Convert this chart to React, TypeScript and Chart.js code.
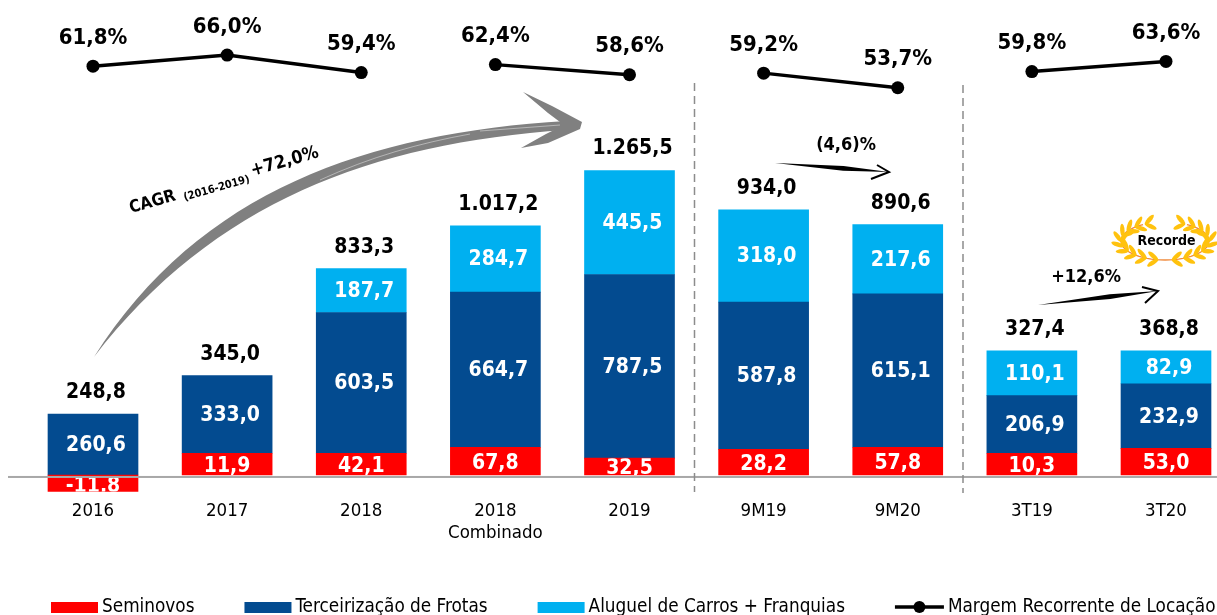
import React, { useEffect, useRef } from "react";
import { Chart, registerables } from "chart.js";

Chart.register(...registerables);

const categories = [["2016"], ["2017"], ["2018"], ["2018", "Combinado"], ["2019"], ["9M19"], ["9M20"], ["3T19"], ["3T20"]];

// Printed values, as they appear on the picture.
const seminovosLabels = ["-11,8", "11,9", "42,1", "67,8", "32,5", "28,2", "57,8", "10,3", "53,0"];
const frotasLabels = ["260,6", "333,0", "603,5", "664,7", "787,5", "587,8", "615,1", "206,9", "232,9"];
const aluguelLabels = [null, null, "187,7", "284,7", "445,5", "318,0", "217,6", "110,1", "82,9"];
const totalLabels = ["248,8", "345,0", "833,3", "1.017,2", "1.265,5", "934,0", "890,6", "327,4", "368,8"];

// Drawn segment sizes: the source slide is not to scale, so these are read off the bars' heights.
const seminovos = [-71, 93, 93, 119, 72, 110, 119, 93, 114];
const frotas = [260.6, 333, 603.5, 664.7, 787.5, 631, 657, 247, 277];
const aluguel = [null, null, 187.7, 284.7, 445.5, 396, 297, 192, 141];

const margem = [61.8, 66.0, 59.4, 62.4, 58.6, 59.2, 53.7, 59.8, 63.6];
const margemBreaks = [2, 4, 6];

const RED = "#ff0000";
const NAVY = "#034b90";
const SKY = "#00b0f0";
const FONT = "'DejaVu Sans Condensed','DejaVu Sans',sans-serif";

function brush(ctx: CanvasRenderingContext2D, pts: number[][], fill: string) {
  ctx.fillStyle = fill;
  ctx.beginPath();
  pts.forEach((p, i) => (i ? ctx.lineTo(p[0], p[1]) : ctx.moveTo(p[0], p[1])));
  ctx.closePath();
  ctx.fill();
}

function drawBigArrow(ctx: CanvasRenderingContext2D) {
  ctx.save();
  ctx.fillStyle = "#808080";
  ctx.beginPath();
  ctx.moveTo(94, 357);
  ctx.bezierCurveTo(200, 190, 368, 133, 566, 121);
  ctx.lineTo(566, 130);
  ctx.bezierCurveTo(372, 143, 214, 202, 94, 357);
  ctx.closePath();
  ctx.fill();
  brush(ctx, [[523, 92], [552, 106], [582, 122], [580, 129], [548, 143], [521, 148], [546, 134], [564, 125], [548, 113]], "#808080");
  ctx.strokeStyle = "rgba(255,255,255,0.6)";
  ctx.lineWidth = 0.7;
  ctx.beginPath();
  ctx.moveTo(172, 284);
  ctx.bezierCurveTo(190, 264, 200, 254, 215, 243);
  ctx.moveTo(320, 180);
  ctx.bezierCurveTo(370, 157, 420, 143, 470, 134);
  ctx.moveTo(480, 131);
  ctx.lineTo(560, 125);
  ctx.stroke();
  ctx.restore();
}

function drawSmallArrow(ctx: CanvasRenderingContext2D, tail: number[], tip: number[], b1: number[], b2: number[]) {
  ctx.save();
  const dx = tip[0] - tail[0];
  const dy = tip[1] - tail[1];
  const len = Math.hypot(dx, dy);
  const nx = -dy / len;
  const ny = dx / len;
  const mx = tail[0] + dx * 0.6;
  const my = tail[1] + dy * 0.6;
  brush(ctx, [tail, [mx + nx * 2.4, my + ny * 2.4], tip, [mx - nx * 2.4, my - ny * 2.4]], "#000");
  ctx.strokeStyle = "#000";
  ctx.lineWidth = 2;
  ctx.beginPath();
  ctx.moveTo(b1[0], b1[1]);
  ctx.lineTo(tip[0], tip[1]);
  ctx.lineTo(b2[0], b2[1]);
  ctx.stroke();
  ctx.restore();
}

function drawWreath(ctx: CanvasRenderingContext2D) {
  const cx = 1165;
  const cy = 241;
  const rx = 44;
  const ry = 19;
  ctx.save();
  [-1, 1].forEach((side) => {
    ctx.strokeStyle = "#f08a3c";
    ctx.lineWidth = 1.3;
    ctx.beginPath();
    for (let a = 0; a <= 150; a += 6) {
      const r = (a * Math.PI) / 180;
      const x = cx + side * rx * Math.sin(r);
      const y = cy + ry * Math.cos(r);
      a === 0 ? ctx.moveTo(x, y) : ctx.lineTo(x, y);
    }
    ctx.stroke();
    ctx.fillStyle = "#ffc20e";
    for (let a = 10; a <= 158; a += 16) {
      const r = (a * Math.PI) / 180;
      const x = cx + side * rx * Math.sin(r);
      const y = cy + ry * Math.cos(r);
      const tang = Math.atan2(-ry * Math.sin(r), side * rx * Math.cos(r));
      [-0.65, 0.65].forEach((off) => {
        const t = tang + off * side;
        ctx.beginPath();
        ctx.ellipse(x + Math.cos(t) * 5.5, y + Math.sin(t) * 5.5, 6.5, 2.2, t, 0, Math.PI * 2);
        ctx.fill();
      });
    }
  });
  ctx.fillStyle = "#000";
  ctx.font = `bold 14px ${FONT}`;
  ctx.textAlign = "center";
  ctx.textBaseline = "middle";
  ctx.fillText("Recorde", 1166.5, 241);
  ctx.restore();
}

const overlay = {
  id: "overlay",
  afterDatasetsDraw(chart: any) {
    const ctx: CanvasRenderingContext2D = chart.ctx;
    const sets = [seminovosLabels, frotasLabels, aluguelLabels];
    ctx.save();
    ctx.textAlign = "center";
    ctx.textBaseline = "middle";

    // segment labels
    sets.forEach((labels, d) => {
      chart.getDatasetMeta(d).data.forEach((bar: any, i: number) => {
        const text = labels[i];
        if (!text) return;
        const top = Math.min(bar.y, bar.base);
        const h = Math.abs(bar.y - bar.base);
        ctx.save();
        ctx.font = `bold 21px ${FONT}`;
        ctx.fillStyle = "#fff";
        if (d === 0) {
          ctx.beginPath();
          ctx.rect(bar.x - 45, top, 90, h);
          ctx.clip();
        }
        const dy = d === 0 ? (bar.y > bar.base ? 3 : 2) : 1;
        ctx.fillText(text, bar.x + (d === 0 ? 0 : 3), top + h / 2 + dy);
        ctx.restore();
      });
    });

    // axis line
    const zero = chart.scales.y.getPixelForValue(0);
    ctx.fillStyle = "#a8a8a8";
    ctx.fillRect(8, zero + 1, 1209, 2);

    // stack totals
    ctx.font = `bold 21px ${FONT}`;
    ctx.fillStyle = "#000";
    totalLabels.forEach((t, i) => {
      const tops = [0, 1, 2].map((d) => chart.getDatasetMeta(d).data[i]).filter((b: any) => b && Number.isFinite(b.y)).map((b: any) => Math.min(b.y, b.base));
      ctx.fillText(t, chart.getDatasetMeta(1).data[i].x + 3, Math.min(...tops) - 21.5);
    });

    // margin labels
    ctx.font = `bold 22px ${FONT}`;
    chart.getDatasetMeta(3).data.forEach((p: any, i: number) => {
      ctx.fillText(margem[i].toFixed(1).replace(".", ",") + "%", p.x, p.y - 28);
    });

    // dashed separators
    ctx.strokeStyle = "#8c8c8c";
    ctx.lineWidth = 1.5;
    ctx.setLineDash([8, 5]);
    [[694.5, 83, 492], [963, 85, 493]].forEach(([x, a, b]) => {
      ctx.beginPath();
      ctx.moveTo(x, a);
      ctx.lineTo(x, b);
      ctx.stroke();
    });
    ctx.setLineDash([]);

    // annotations
    drawBigArrow(ctx);
    drawSmallArrow(ctx, [775, 163], [889, 172], [877, 165], [871, 179]);
    drawSmallArrow(ctx, [1038, 305], [1158, 291], [1142, 287], [1145, 303]);
    ctx.fillStyle = "#000";
    ctx.font = `bold 18px ${FONT}`;
    ctx.fillText("(4,6)%", 846, 145);
    ctx.fillText("+12,6%", 1086, 277);
    drawWreath(ctx);

    // rotated CAGR caption
    ctx.save();
    ctx.translate(131, 213);
    ctx.rotate((-16 * Math.PI) / 180);
    ctx.textAlign = "left";
    ctx.textBaseline = "alphabetic";
    ctx.font = `bold 17px ${FONT}`;
    ctx.fillText("CAGR", 0, 0);
    ctx.font = `bold 11px ${FONT}`;
    ctx.fillText("(2016-2019)", 55, 3);
    ctx.font = `bold 18px ${FONT}`;
    ctx.fillText("+72,0%", 127, -2);
    ctx.restore();

    // legend
    const legendY = 607;
    ctx.textAlign = "left";
    ctx.textBaseline = "middle";
    ctx.font = `18.8px ${FONT}`;
    let x = 51;
    chart.data.datasets.forEach((ds: any, i: number) => {
      if (i < 3) {
        ctx.fillStyle = ds.backgroundColor;
        ctx.fillRect(x, legendY - 5, 47, 11);
        x += 51;
      } else {
        ctx.strokeStyle = "#000";
        ctx.lineWidth = 3.5;
        ctx.beginPath();
        ctx.moveTo(x, legendY);
        ctx.lineTo(x + 49, legendY);
        ctx.stroke();
        ctx.fillStyle = "#000";
        ctx.beginPath();
        ctx.arc(x + 24.5, legendY, 6, 0, Math.PI * 2);
        ctx.fill();
        x += 53;
      }
      ctx.fillStyle = "#000";
      ctx.fillText(ds.label, x, legendY);
      x += ctx.measureText(ds.label).width + 50;
    });
    ctx.restore();
  },
};

export default function App() {
  const ref = useRef<HTMLCanvasElement>(null);
  useEffect(() => {
    const bar = (label: string, data: any[], color: string) => ({
      type: "bar" as const,
      label,
      data,
      backgroundColor: color,
      barThickness: 90,
      yAxisID: "y",
      stack: "receita",
      clip: false as any,
      order: 2,
    });
    const chart = new Chart(ref.current!, {
      type: "bar",
      data: {
        labels: categories as any,
        datasets: [
          bar("Seminovos", seminovos, RED),
          bar("Terceirização de Frotas", frotas, NAVY),
          bar("Aluguel de Carros + Franquias", aluguel, SKY),
          {
            type: "line" as const,
            label: "Margem Recorrente de Locação",
            data: margem,
            yAxisID: "y1",
            stack: "margem",
            borderColor: "#000",
            backgroundColor: "#000",
            borderWidth: 3.5,
            pointRadius: 6.5,
            pointBackgroundColor: "#000",
            pointBorderWidth: 0,
            tension: 0,
            clip: false as any,
            order: 1,
            segment: {
              borderColor: (c: any) => (margemBreaks.includes(c.p0DataIndex) ? "transparent" : "#000"),
            },
          } as any,
        ],
      },
      options: {
        responsive: false,
        animation: false,
        layout: { autoPadding: false, padding: { left: 93, right: 51, top: 0, bottom: 0 } },
        plugins: { legend: { display: false }, tooltip: { enabled: false } },
        scales: {
          x: {
            stacked: true,
            offset: false,
            grid: { display: false, drawTicks: false },
            border: { display: false },
            ticks: {
              autoSkip: false,
              maxRotation: 0,
              padding: 8,
              color: "#000",
              font: { family: FONT, size: 18.5, lineHeight: 1.2 },
            },
            afterFit: (s: any) => {
              s.height = 123;
              s.paddingLeft = 0;
              s.paddingRight = 0;
            },
          },
          y: { display: false, stacked: true, min: -73, max: 2036 },
          y1: { display: false, min: -98.3, max: 86.7 },
        },
      },
      plugins: [overlay],
    } as any);
    return () => chart.destroy();
  }, []);
  return (
    <div style={{ position: "absolute", left: 0, top: 0, width: 1217, height: 615, overflow: "hidden", background: "#fff" }}>
      <canvas ref={ref} width={1217} height={615} style={{ display: "block" }} />
    </div>
  );
}
